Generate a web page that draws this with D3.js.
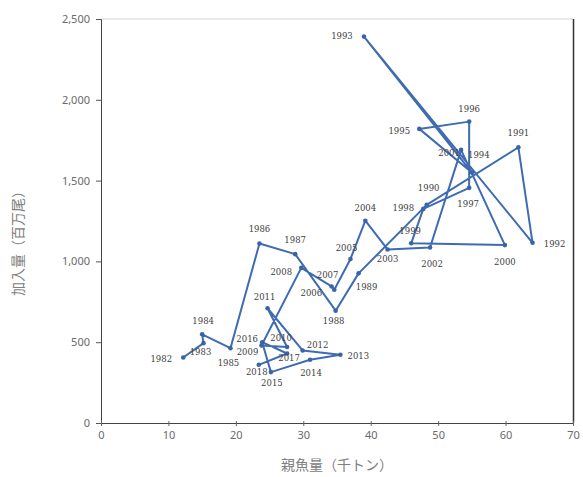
<!DOCTYPE html>
<html>
<head>
<meta charset="utf-8">
<script src="https://cdn.jsdelivr.net/npm/d3@7"></script>
<style>
  html, body { margin: 0; padding: 0; background: #ffffff; }
  svg { display: block; }
</style>
</head>
<body>
<svg id="chart" width="583" height="477"></svg>
<script>
// ---- data ----
const years = [1982,1983,1984,1985,1986,1987,1988,1989,1990,1991,1992,1993,1994,1995,1996,1997,1998,1999,2000,
               2001,2002,2003,2004,2005,2006,2007,2008,2009,2010,2011,2012,2013,2014,2015,2016,2017,2018];
const spawningStock = [12.2,15.2,15.0,19.2,23.5,28.8,34.8,38.2,48.3,61.9,64.0,39.0,55.0,47.2,54.6,54.6,47.8,46.0,59.9,
                       53.4,48.8,42.5,39.2,37.0,34.6,34.2,29.7,23.8,27.6,24.7,29.9,35.5,31.0,25.2,23.9,27.6,23.4];
const recruitment = [405,494,549,463,1111,1045,695,926,1350,1706,1115,2391,1550,1820,1865,1455,1325,1112,1101,
                     1690,1086,1074,1252,1015,825,845,960,480,470,710,449,422,391,315,500,430,360];
const xTicks = [0,10,20,30,40,50,60,70];
const yTicks = [0,500,1000,1500,2000,2500];
const xTitle = "親魚量（千トン）";
const yTitle = "加入量（百万尾）";
// label offsets (px) for year labels, layout only
const labelDX = [-22,-3,1,-2,0,0,-2,8,2,0,22,-22,7,-20,0,-1,-20,-1,0,
                 -12,2,0,0,-4,-23,-4,-20,-14,-6,-3,15,18,1,1,-15,2,-2];
const labelDY = [1,9,-13,15,-14,-14,10,14,-17,-14,1,-1,-18,2,-13,16,-1,-12,17,
                 3,16,10,-13,-11,3,-11,4,7,-9,-11,-5,1,13,11,-3,4,7];

// ---- layout ----
const svg = d3.select("#chart");
const M = {left: 101, right: 573, top: 19, bottom: 423};
const x = d3.scaleLinear().domain([0, 70]).range([M.left, M.right]);
const y = d3.scaleLinear().domain([0, 2500]).range([M.bottom, M.top]);

const tickFont = "'Noto Sans', 'DejaVu Sans', sans-serif";

// plot frame (top & right)
svg.append("line").attr("x1", M.left).attr("x2", M.right).attr("y1", M.top).attr("y2", M.top)
  .attr("stroke", "#d4d4d4").attr("stroke-width", 1);
svg.append("line").attr("x1", M.right + 0.5).attr("x2", M.right + 0.5).attr("y1", M.top).attr("y2", M.bottom)
  .attr("stroke", "#333").attr("stroke-width", 1.5);

// y axis
const yAxis = d3.axisLeft(y).tickValues(yTicks).tickFormat(d3.format(",")).tickSize(5).tickPadding(6);
const gy = svg.append("g").attr("transform", `translate(${M.left},0)`).call(yAxis);
gy.select(".domain").attr("stroke", "#444").attr("stroke-width", 1);
gy.selectAll(".tick line").attr("stroke", "#555");
gy.selectAll(".tick text").attr("fill", "#6a6a6a").style("font-family", tickFont).style("font-size", "11px");

// x axis
const xAxis = d3.axisBottom(x).tickValues(xTicks).tickSize(3).tickPadding(5);
const gx = svg.append("g").attr("transform", `translate(0,${M.bottom})`).call(xAxis);
gx.select(".domain").attr("stroke", "#444").attr("stroke-width", 1);
gx.selectAll(".tick line").attr("stroke", "#666").attr("y1", -2);
gx.selectAll(".tick text").attr("fill", "#6a6a6a").style("font-family", tickFont).style("font-size", "11px");

// titles
svg.append("text").attr("x", 337).attr("y", 470).attr("text-anchor", "middle")
  .style("font-family", "'Noto Sans CJK JP', sans-serif").style("font-size", "14px").attr("fill", "#808080")
  .text(xTitle);
svg.append("text").attr("transform", "translate(23,240) rotate(-90)").attr("text-anchor", "middle")
  .style("font-family", "'Noto Sans CJK JP', sans-serif").style("font-size", "14px").attr("fill", "#808080")
  .text(yTitle);

// connected line
const pts = years.map((yr, i) => ({yr, sx: spawningStock[i], r: recruitment[i], dx: labelDX[i], dy: labelDY[i]}));
const line = d3.line().x(d => x(d.sx)).y(d => y(d.r));
svg.append("path").datum(pts).attr("d", line)
  .attr("fill", "none").attr("stroke", "#3f6cb0").attr("stroke-width", 2).attr("stroke-linejoin", "round");

svg.append("g").selectAll("circle").data(pts).join("circle")
  .attr("cx", d => x(d.sx)).attr("cy", d => y(d.r)).attr("r", 2.3).attr("fill", "#3a64a8");

// year labels
svg.append("g").selectAll("text").data(pts).join("text")
  .attr("x", d => x(d.sx) + d.dx).attr("y", d => y(d.r) + d.dy)
  .attr("text-anchor", "middle").attr("dominant-baseline", "central")
  .style("font-family", "'DejaVu Serif', serif").style("font-size", "8.5px").attr("fill", "#404040")
  .text(d => d.yr);
</script>
</body>
</html>
